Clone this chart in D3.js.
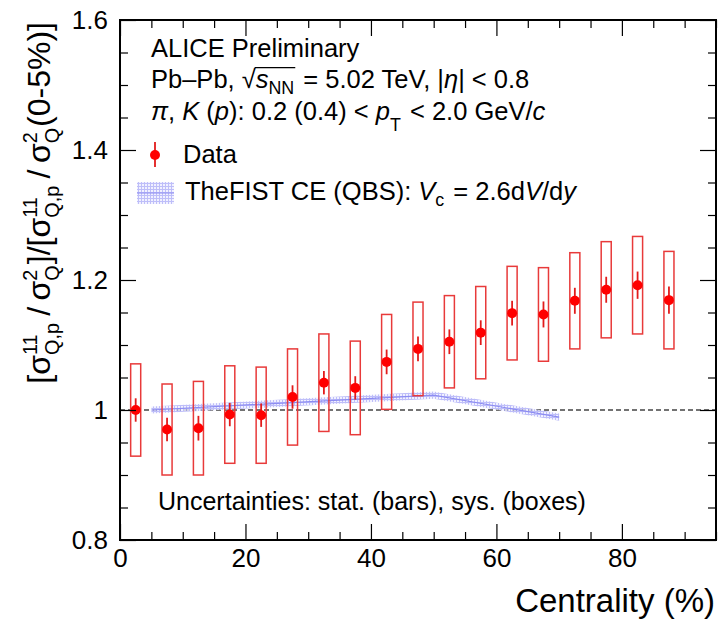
<!DOCTYPE html>
<html>
<head>
<meta charset="utf-8">
<script src="https://cdn.jsdelivr.net/npm/d3@7"></script>
<style>
  body { margin: 0; background: #fff; }
  svg { font-family: "Liberation Sans", Arial, Helvetica, sans-serif; }
  svg text { white-space: pre; }
</style>
</head>
<body>
<svg width="721" height="624"></svg>
<script>
// ---- data ----
var centrality = [2.5, 7.5, 12.5, 17.5, 22.5, 27.5, 32.5, 37.5, 42.5, 47.5, 52.5, 57.5, 62.5, 67.5, 72.5, 77.5, 82.5, 87.5];
var ratio      = [1.000, 0.970, 0.972, 0.993, 0.992, 1.020, 1.042, 1.034, 1.074, 1.094, 1.105, 1.119, 1.149, 1.147, 1.168, 1.185, 1.192, 1.169];
var statErr    = [0.018, 0.018, 0.019, 0.018, 0.018, 0.018, 0.018, 0.018, 0.019, 0.019, 0.019, 0.019, 0.019, 0.020, 0.020, 0.020, 0.021, 0.021];
var sysErr     = [0.071, 0.070, 0.072, 0.075, 0.074, 0.074, 0.075, 0.072, 0.073, 0.072, 0.071, 0.071, 0.072, 0.072, 0.074, 0.074, 0.075, 0.075];

// TheFIST CE (QBS) band
var modelCent = [5, 50, 70];
var modelVal  = [1.000, 1.023, 0.989];
var modelErr  = [0.0055, 0.0055, 0.0055];

var xMajor = [0, 20, 40, 60, 80];
var yMajor = [0.8, 1.0, 1.2, 1.4, 1.6];

var svg = d3.select("svg"),
    pLeft = 120, pRight = 716, pTop = 20, pBottom = 540;

var x = d3.scaleLinear().domain([0, 95]).range([pLeft, pRight]);
var y = d3.scaleLinear().domain([0.8, 1.6]).range([pBottom, pTop]);

// hatch pattern for the model band
var defs = svg.append("defs");
var pat = defs.append("pattern")
    .attr("id", "hatch")
    .attr("patternUnits", "userSpaceOnUse")
    .attr("width", 3).attr("height", 3);
pat.append("rect").attr("width", 3).attr("height", 3).attr("fill", "#eeeeff");
pat.append("path").attr("d", "M0,0.5H3M0.5,0V3").attr("stroke", "#aeaef7").attr("stroke-width", 1);

var g = svg.append("g");

// dashed reference line at 1
g.append("line")
    .attr("x1", x(0)).attr("x2", x(95))
    .attr("y1", y(1)).attr("y2", y(1))
    .attr("stroke", "#444").attr("stroke-width", 1.3)
    .attr("stroke-dasharray", "5,3");

// model band
var modelData = modelCent.map(function(c, i) { return {c: c, v: modelVal[i], e: modelErr[i]}; });
g.append("path")
    .datum(modelData)
    .attr("fill", "url(#hatch)")
    .attr("opacity", 0.8)
    .attr("d", d3.area()
        .x(function(d) { return x(d.c); })
        .y0(function(d) { return y(d.v - d.e); })
        .y1(function(d) { return y(d.v + d.e); }));
g.append("path")
    .datum(modelData)
    .attr("fill", "none")
    .attr("stroke", "#8c8cf2")
    .attr("stroke-width", 1.2)
    .attr("d", d3.line()
        .x(function(d) { return x(d.c); })
        .y(function(d) { return y(d.v); }));

// data
var pts = centrality.map(function(c, i) {
    return {c: c, v: ratio[i], st: statErr[i], sy: sysErr[i]};
});

g.selectAll(".sys").data(pts).enter().append("rect")
    .attr("class", "sys")
    .attr("x", function(d) { return x(d.c - 0.8); })
    .attr("width", function(d) { return x(d.c + 0.8) - x(d.c - 0.8); })
    .attr("y", function(d) { return y(d.v + d.sy); })
    .attr("height", function(d) { return y(d.v - d.sy) - y(d.v + d.sy); })
    .attr("fill", "none")
    .attr("stroke", "#e83a3a")
    .attr("stroke-width", 1.5);

g.selectAll(".stat").data(pts).enter().append("line")
    .attr("class", "stat")
    .attr("x1", function(d) { return x(d.c); })
    .attr("x2", function(d) { return x(d.c); })
    .attr("y1", function(d) { return y(d.v + d.st); })
    .attr("y2", function(d) { return y(d.v - d.st); })
    .attr("stroke", "#e21b1b")
    .attr("stroke-width", 1.8);

g.selectAll(".pt").data(pts).enter().append("circle")
    .attr("class", "pt")
    .attr("cx", function(d) { return x(d.c); })
    .attr("cy", function(d) { return y(d.v); })
    .attr("r", 5)
    .attr("fill", "#ff0000");

// axes (ROOT style: ticks inside, on all four sides)
var xMinor = d3.range(0, 96, 5).filter(function(v) { return v % 20 !== 0; });
var yMinor = d3.range(0, 17).map(function(i) { return +(0.8 + i * 0.05).toFixed(2); })
    .filter(function(v) { return yMajor.indexOf(v) < 0; });

function styleAxis(sel) {
    sel.select(".domain").remove();
    sel.selectAll("line").attr("stroke", "#000").attr("stroke-width", 1.2);
    sel.selectAll("text").attr("fill", "#000").style("font-size", "26px");
}

svg.append("g").attr("transform", "translate(0," + pBottom + ")")
    .call(d3.axisBottom(x).tickValues(xMajor).tickSize(-16).tickPadding(9).tickFormat(d3.format("d")))
    .call(styleAxis);
svg.append("g").attr("transform", "translate(0," + pBottom + ")")
    .call(d3.axisBottom(x).tickValues(xMinor).tickSize(-8).tickFormat(""))
    .call(styleAxis);
svg.append("g").attr("transform", "translate(0," + pTop + ")")
    .call(d3.axisTop(x).tickValues(xMajor).tickSize(-16).tickFormat(""))
    .call(styleAxis);
svg.append("g").attr("transform", "translate(0," + pTop + ")")
    .call(d3.axisTop(x).tickValues(xMinor).tickSize(-8).tickFormat(""))
    .call(styleAxis);

svg.append("g").attr("transform", "translate(" + pLeft + ",0)")
    .call(d3.axisLeft(y).tickValues(yMajor).tickSize(-16).tickPadding(12).tickFormat(function(d) { return d === 1 ? "1" : d3.format(".1f")(d); }))
    .call(styleAxis);
svg.append("g").attr("transform", "translate(" + pLeft + ",0)")
    .call(d3.axisLeft(y).tickValues(yMinor).tickSize(-8).tickFormat(""))
    .call(styleAxis);
svg.append("g").attr("transform", "translate(" + pRight + ",0)")
    .call(d3.axisRight(y).tickValues(yMajor).tickSize(-16).tickFormat(""))
    .call(styleAxis);
svg.append("g").attr("transform", "translate(" + pRight + ",0)")
    .call(d3.axisRight(y).tickValues(yMinor).tickSize(-8).tickFormat(""))
    .call(styleAxis);

svg.append("rect")
    .attr("x", pLeft).attr("y", pTop)
    .attr("width", pRight - pLeft).attr("height", pBottom - pTop)
    .attr("fill", "none").attr("stroke", "#000").attr("stroke-width", 2);

// rich text helper: parts = {s, i (italic), k: "sub"/"sup"} or {sup, sub} stacked
function rich(parent, parts, size) {
    var cx = 0;
    parts.forEach(function(p) {
        if (p.sup !== undefined) {
            var a = parent.append("text").attr("x", cx).attr("y", -0.42 * size)
                .style("font-size", (0.62 * size) + "px").text(p.sup);
            var b = parent.append("text").attr("x", cx).attr("y", 0.28 * size)
                .style("font-size", (0.62 * size) + "px").text(p.sub);
            cx += Math.max(a.node().getComputedTextLength(), b.node().getComputedTextLength()) + 1;
            return;
        }
        var fs = p.k ? 0.7 * size : size;
        var dy = p.k === "sub" ? (p.low ? 0.42 : 0.25) * size : (p.k === "sup" ? -0.4 * size : 0);
        var t = parent.append("text").attr("x", cx).attr("y", dy)
            .style("font-size", fs + "px")
            .style("font-style", p.i ? "italic" : null)
            .text(p.s);
        p.x0 = cx;
        cx += t.node().getComputedTextLength() + (p.pad || 0);
        p.x1 = cx;
    });
    return cx;
}

var ts = 25.5;
var l1 = svg.append("g").attr("transform", "translate(151,57)");
rich(l1, [{s: "ALICE Preliminary"}], ts);

var l2 = svg.append("g").attr("transform", "translate(151,88)");
var l2parts = [{s: "Pb\u2013Pb, "}, {s: "\u221A"}, {s: "s", i: true}, {s: "NN", k: "sub", pad: 2},
    {s: " = 5.02 TeV, |"}, {s: "\u03B7", i: true}, {s: "| < 0.8"}];
rich(l2, l2parts, ts);
l2.append("line")
    .attr("x1", l2parts[1].x1 - 1).attr("x2", l2parts[3].x1 - 1)
    .attr("y1", -ts * 0.8).attr("y2", -ts * 0.8)
    .attr("stroke", "#000").attr("stroke-width", 1.3);

var l3 = svg.append("g").attr("transform", "translate(151,120)");
rich(l3, [{s: "\u03C0", i: true}, {s: ", "}, {s: "K", i: true}, {s: " ("}, {s: "p", i: true},
    {s: "): 0.2 (0.4) < "}, {s: "p", i: true}, {s: "T", k: "sub", low: true, pad: 2}, {s: " < 2.0 GeV/"}, {s: "c", i: true}], ts);

// legend
svg.append("line").attr("x1", 155).attr("x2", 155).attr("y1", 142).attr("y2", 167)
    .attr("stroke", "#e21b1b").attr("stroke-width", 1.8);
svg.append("circle").attr("cx", 155).attr("cy", 155).attr("r", 5).attr("fill", "#ff0000");
rich(svg.append("g").attr("transform", "translate(183,163)"), [{s: "Data"}], ts);

svg.append("rect").attr("x", 137).attr("y", 182).attr("width", 37).attr("height", 22)
    .attr("fill", "url(#hatch)").attr("opacity", 0.8);
svg.append("line").attr("x1", 137).attr("x2", 174).attr("y1", 193).attr("y2", 193)
    .attr("stroke", "#8c8cf2").attr("stroke-width", 1.2);
rich(svg.append("g").attr("transform", "translate(185,200)"),
    [{s: "TheFIST CE (QBS): "}, {s: "V", i: true}, {s: "c", k: "sub", pad: 2}, {s: " = 2.6d"}, {s: "V", i: true}, {s: "/d"}, {s: "y", i: true}], ts);

rich(svg.append("g").attr("transform", "translate(158,510)"),
    [{s: "Uncertainties: stat. (bars), sys. (boxes)"}], 25);

// axis titles
svg.append("text")
    .attr("x", 715).attr("y", 612)
    .attr("text-anchor", "end")
    .style("font-size", "33px")
    .text("Centrality (%)");

var yt = svg.append("g");
var yw = rich(yt, [{s: "[\u03C3"}, {sup: "11", sub: "Q,p"}, {s: "\u2009/\u2009\u03C3"}, {sup: "2", sub: "Q"},
    {s: "]/[\u03C3"}, {sup: "11", sub: "Q,p"}, {s: "\u2009/\u2009\u03C3"}, {sup: "2", sub: "Q"}, {s: "(0-5%)]"}], 32);
yt.attr("transform", "translate(50," + (22 + yw) + ") rotate(-90)");
</script>
</body>
</html>
